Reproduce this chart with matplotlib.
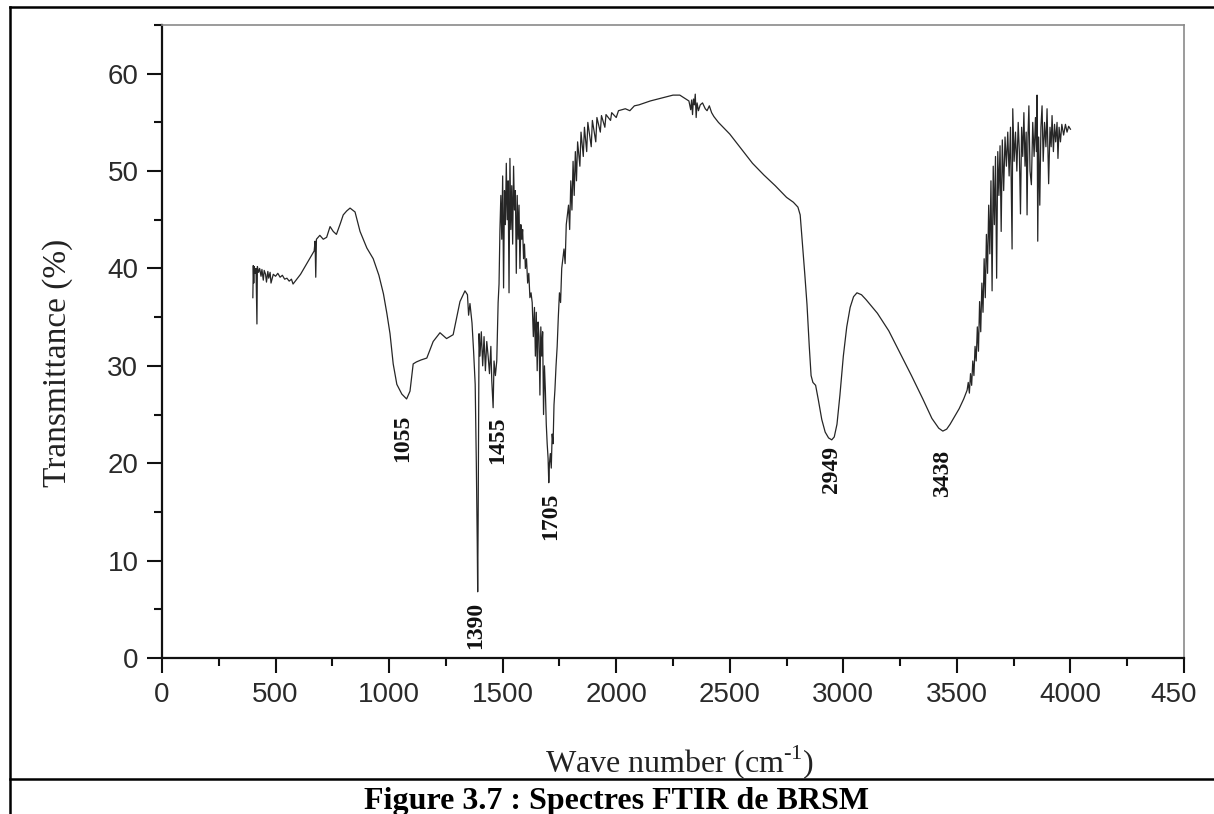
import matplotlib
matplotlib.use("Agg")
import matplotlib.pyplot as plt
from matplotlib.lines import Line2D
from matplotlib.transforms import ScaledTranslation
from matplotlib.ticker import MultipleLocator

# ---- spectrum: wavenumber (cm-1) and transmittance (%) ----
wn_low = [400, 402, 404, 406, 410, 414, 418, 420, 425, 430, 436, 440, 446, 450,
          456, 460, 466, 470, 476, 480, 490, 500, 510, 520, 530, 540, 550, 560,
          570, 577, 590, 600, 610, 620, 630, 640, 650, 660, 670, 674, 677, 680,
          695, 710, 725, 740, 754, 768, 785, 798, 813, 828, 850, 872, 902, 930,
          955, 975, 990, 1004, 1018, 1034, 1056, 1077, 1092, 1106, 1120, 1140,
          1166, 1194, 1224, 1253, 1282, 1312, 1334, 1345, 1350, 1356, 1365,
          1372, 1379, 1384, 1388, 1390, 1392, 1396, 1400, 1406, 1412, 1418,
          1424, 1430, 1436, 1442, 1448, 1452, 1458, 1462, 1468, 1474, 1480]
t_low = [37.0, 40.3, 38.5, 40.2, 39.5, 40.0, 34.3, 40.2, 39.6, 40.0, 39.2, 39.9,
         38.8, 39.8, 39.4, 38.6, 39.7, 39.0, 39.6, 38.5, 39.4, 39.2, 39.5, 39.1,
         39.3, 38.9, 39.0, 38.7, 38.9, 38.4, 38.8, 39.1, 39.4, 39.8, 40.2, 40.6,
         41.0, 41.4, 41.8, 42.8, 39.1, 43.0, 43.4, 43.0, 43.2, 44.3, 43.8, 43.5,
         44.6, 45.5, 45.9, 46.2, 45.8, 43.8, 42.1, 41.0, 39.3, 37.4, 35.4, 33.3,
         30.2, 28.1, 27.1, 26.6, 27.4, 30.2, 30.4, 30.6, 30.8, 32.5, 33.4, 32.8,
         33.2, 36.6, 37.7, 37.3, 35.2, 36.4, 34.4, 31.5, 28.1, 20.0, 12.0, 6.8,
         14.0, 33.3, 31.0, 33.5, 30.0, 33.0, 29.5, 32.5, 31.0, 29.2, 32.0, 28.5,
         25.7, 30.5, 29.0, 30.5, 36.5]

wn_mid = [1484, 1488, 1492, 1496, 1500, 1504, 1508, 1512, 1516, 1520, 1524, 1528,
          1532, 1536, 1540, 1544, 1548, 1552, 1556, 1560, 1564, 1568, 1572, 1576,
          1580, 1584, 1588, 1592, 1596, 1600, 1605, 1610, 1615, 1620, 1625, 1630,
          1635, 1640, 1644, 1648, 1652, 1656, 1660, 1664, 1668, 1672, 1676, 1680,
          1684, 1688, 1692, 1696, 1700, 1703, 1706, 1710, 1714, 1718, 1722, 1726,
          1730, 1735, 1740, 1745, 1750, 1755, 1760, 1770, 1775, 1780, 1790, 1795,
          1800, 1805, 1810, 1815, 1820, 1825, 1830, 1840, 1845, 1855, 1860, 1870,
          1875, 1890, 1895, 1910, 1915, 1930, 1935, 1950, 1955, 1975, 1980, 2000,
          2010, 2040, 2060, 2080, 2100]
t_mid = [38.4, 44.0, 47.5, 43.0, 49.5, 38.0, 48.0, 44.5, 50.8, 45.0, 49.0, 37.5,
         51.3, 44.0, 48.5, 42.5, 50.5, 46.0, 48.0, 39.5, 47.5, 43.0, 46.5, 40.0,
         44.5, 43.0, 44.0, 41.0, 42.5, 40.0, 41.0, 38.5, 39.5, 37.0, 37.5, 36.5,
         33.0, 36.0, 31.0, 35.5, 29.5, 34.5, 33.0, 27.0, 34.0, 31.0, 33.5, 25.0,
         30.0, 27.5, 24.0, 22.0, 20.5, 18.0, 20.0, 21.0, 19.5, 23.0, 22.0, 26.0,
         27.5, 30.0, 32.0, 35.0, 37.5, 36.5, 40.0, 42.0, 40.5, 44.5, 46.5, 44.0,
         49.0, 46.0, 51.0, 47.5, 52.0, 49.0, 53.0, 50.5, 54.0, 51.5, 54.5, 52.0,
         55.0, 52.5, 55.2, 53.0, 55.5, 54.0, 55.7, 54.5, 55.8, 55.2, 56.0, 55.5,
         56.2, 56.4, 56.2, 56.7, 56.8]

wn_high = [2150, 2200, 2250, 2280, 2300, 2320, 2328, 2332, 2336, 2340, 2344, 2348,
           2352, 2356, 2362, 2370, 2380, 2392, 2400, 2410, 2420, 2430, 2450, 2500,
           2550, 2600, 2650, 2700, 2750, 2780, 2800, 2810, 2820, 2830, 2840, 2850,
           2858, 2866, 2878, 2890, 2905, 2920, 2935, 2949, 2960, 2972, 2985, 3000,
           3015, 3030, 3045, 3060, 3080, 3100, 3150, 3200, 3250, 3300, 3350, 3390,
           3420, 3438, 3455, 3470, 3490, 3510, 3530, 3545]
t_high = [57.2, 57.5, 57.8, 57.8, 57.5, 57.2, 56.3, 57.3, 55.8, 57.4, 56.8, 57.9,
          55.5, 57.0, 56.2, 56.8, 57.0, 56.4, 56.2, 56.7, 56.0, 55.6, 55.0, 53.8,
          52.3, 50.8, 49.6, 48.5, 47.3, 46.8, 46.3, 45.5, 42.5, 39.5, 36.3, 32.0,
          29.0, 28.3, 28.0, 26.5, 24.5, 23.2, 22.6, 22.4, 22.7, 24.0, 27.0, 31.0,
          34.0, 36.0, 37.1, 37.5, 37.3, 36.8, 35.4, 33.6, 31.3, 29.0, 26.6, 24.6,
          23.6, 23.3, 23.5, 24.0, 24.8, 25.6, 26.6, 27.5]

wn_end = [3550, 3555, 3560, 3565, 3570, 3575, 3580, 3585, 3590, 3595, 3600, 3605,
          3610, 3615, 3620, 3625, 3630, 3635, 3640, 3645, 3650, 3655, 3660, 3665,
          3670, 3675, 3680, 3685, 3690, 3695, 3700, 3706, 3712, 3718, 3724, 3730,
          3736, 3743, 3746, 3752, 3758, 3764, 3770, 3775, 3780, 3785, 3790, 3795,
          3800, 3805, 3809, 3813, 3817, 3822, 3828, 3834, 3840, 3846, 3850, 3853,
          3856, 3860, 3865, 3870, 3875, 3880, 3886, 3892, 3897, 3904, 3910, 3915,
          3919, 3925, 3930, 3935, 3941, 3945, 3950, 3956, 3962, 3970, 3978, 3985,
          3992, 4000]
t_end = [28.3, 27.2, 29.2, 28.0, 30.5, 29.0, 32.0, 30.5, 34.0, 31.5, 36.6, 33.5,
         38.5, 35.5, 41.0, 37.0, 43.5, 39.5, 46.5, 41.5, 49.0, 37.7, 50.5, 44.5,
         51.5, 39.0, 52.0, 47.5, 52.6, 43.8, 53.2, 48.0, 53.5, 50.5, 54.0, 49.5,
         54.5, 42.0, 56.4, 51.0, 54.0, 50.0, 55.0, 52.0, 45.6, 54.5, 51.5, 56.0,
         50.5, 54.0, 45.5, 53.5, 56.7, 50.0, 48.6, 55.0, 51.5, 55.5, 52.0, 57.8,
         42.8, 53.5, 46.5, 54.5, 56.7, 51.0, 55.0, 52.5, 56.4, 48.7, 54.5, 52.5,
         55.7, 52.0, 54.8, 53.0, 55.0, 51.3, 54.5, 53.0, 54.8, 53.7, 54.8, 54.0,
         54.6, 54.3]

wavenumber = wn_low + wn_mid + wn_high + wn_end
transmittance = t_low + t_mid + t_high + t_end

# ---- annotated band positions ----
peak_labels = ["1055", "1390", "1455", "1705", "2949", "3438"]
peak_label_x = [1061, 1383, 1480, 1713, 2950, 3435]
peak_label_y = [22.6, 3.3, 22.4, 14.5, 19.4, 19.0]

x_ticks = [0, 500, 1000, 1500, 2000, 2500, 3000, 3500, 4000, 4500]
x_tick_labels = ["0", "500", "1000", "1500", "2000", "2500", "3000", "3500",
                 "4000", "450"]
y_ticks = [0, 10, 20, 30, 40, 50, 60]

plt.rcParams["mathtext.fontset"] = "custom"
plt.rcParams["mathtext.rm"] = "Liberation Serif"

W, H = 1214, 814
fig = plt.figure(figsize=(W / 100, H / 100), dpi=100)
ax = fig.add_axes([162 / W, 1 - 658 / H, (1184 - 162) / W, (658 - 25) / H])

ax.plot(wavenumber, transmittance, color="#262626", lw=0.9)

ax.set_xlim(0, 4500)
ax.set_ylim(0, 65)
ax.set_xticks(x_ticks)
ax.set_xticklabels(x_tick_labels)
ax.set_yticks(y_ticks)
ax.xaxis.set_minor_locator(MultipleLocator(250))
ax.yaxis.set_minor_locator(MultipleLocator(5))

for side in ("left", "bottom"):
    ax.spines[side].set_linewidth(1.6)
    ax.spines[side].set_color("#111111")
for side in ("top", "right"):
    ax.spines[side].set_linewidth(1.2)
    ax.spines[side].set_color("#8a8a8a")

ax.tick_params(which="major", direction="out", length=11, width=1.5,
               color="#111111", labelsize=20, labelcolor="#2a2a2a", pad=6,
               top=False, right=False)
ax.tick_params(which="minor", direction="out", length=6, width=1.5,
               color="#111111", top=False, right=False)
for lbl in ax.get_xticklabels() + ax.get_yticklabels():
    lbl.set_fontfamily("Liberation Sans")
last = ax.get_xticklabels()[-1]
last.set_transform(last.get_transform()
                   + ScaledTranslation(-0.10, 0, fig.dpi_scale_trans))

for txt, px, py in zip(peak_labels, peak_label_x, peak_label_y):
    ax.text(px, py, txt, rotation=90, ha="center", va="center",
            fontsize=17, fontweight="bold", family="Liberation Serif",
            color="#111111")

fig.text(58 / W, 1 - 363 / H, "Transmittance (%)", rotation=90,
         ha="center", va="center", fontsize=24, family="Liberation Serif",
         color="#222222")
fig.text(680 / W, 1 - 772 / H, r"Wave number (cm$^{\text{-1}}$)",
         ha="center", va="baseline", fontsize=23, family="Liberation Serif",
         color="#222222")

# page frame and caption row
fig.add_artist(Line2D([10 / W, 10 / W], [0, 1 - 7 / H], color="black", lw=1.8))
fig.add_artist(Line2D([10 / W, 1], [1 - 7 / H, 1 - 7 / H], color="black", lw=1.8))
fig.add_artist(Line2D([10 / W, 1], [1 - 779 / H, 1 - 779 / H], color="black", lw=1.8))
fig.text(616 / W, 1 - 809 / H, "Figure 3.7 : Spectres FTIR de BRSM",
         ha="center", va="baseline", fontsize=23, fontweight="bold",
         family="Liberation Serif", color="black")

fig.savefig("out.png", dpi=100, facecolor="white")
